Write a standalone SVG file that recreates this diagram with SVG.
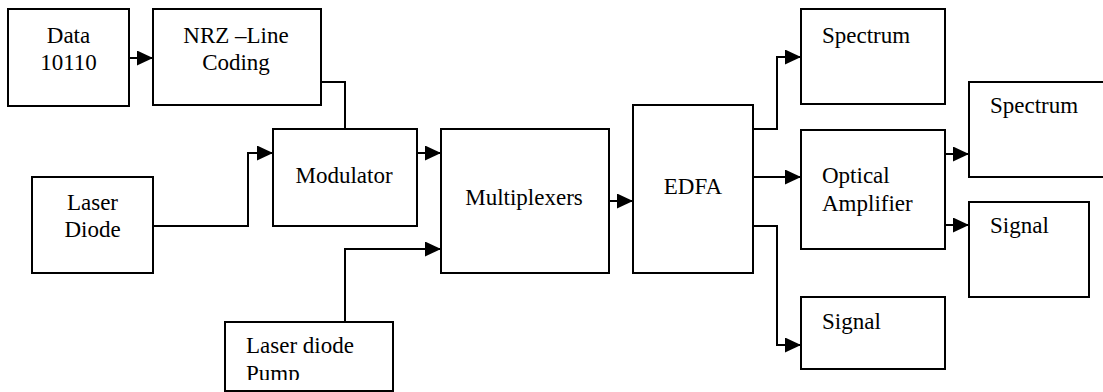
<svg xmlns="http://www.w3.org/2000/svg" width="1103" height="392" viewBox="0 0 1103 392" font-family="Liberation Serif, DejaVu Serif, serif">
<style>
.box{fill:#fff;stroke:#000;stroke-width:2}
.t{font-size:23px;fill:#000}
.c{text-anchor:middle}
.ln{fill:none;stroke:#000;stroke-width:2}
</style>
<defs>
<marker id="ah" markerUnits="userSpaceOnUse" markerWidth="16" markerHeight="15" refX="16" refY="7.5" orient="auto">
<path d="M0,0 L16,7.5 L0,15 Z" fill="#000"/>
</marker>
<clipPath id="pc"><rect x="225" y="322" width="168" height="58"/></clipPath>
</defs>
<g id="connectors">
<path class="ln" d="M129,58 H153" marker-end="url(#ah)"/>
<path class="ln" d="M321,82 H345 V129"/>
<path class="ln" d="M153,226 H248 V153 H273" marker-end="url(#ah)"/>
<path class="ln" d="M417,153 H441" marker-end="url(#ah)"/>
<path class="ln" d="M345,322 V249 H441" marker-end="url(#ah)"/>
<path class="ln" d="M609,201 H633" marker-end="url(#ah)"/>
<path class="ln" d="M753,129 H777 V57 H801" marker-end="url(#ah)"/>
<path class="ln" d="M753,177 H801" marker-end="url(#ah)"/>
<path class="ln" d="M753,226 H777 V345 H801" marker-end="url(#ah)"/>
<path class="ln" d="M945,154 H969" marker-end="url(#ah)"/>
<path class="ln" d="M945,225 H969" marker-end="url(#ah)"/>
</g>
<g id="data">
<rect class="box" x="8" y="9" width="121" height="97"/>
<text class="t c" x="68.5" y="43">Data</text>
<text class="t c" x="68.5" y="70">10110</text>
</g>
<g id="nrz">
<rect class="box" x="153" y="9" width="168" height="96"/>
<text class="t c" x="236" y="43">NRZ –Line</text>
<text class="t c" x="236" y="70">Coding</text>
</g>
<g id="laser-diode">
<rect class="box" x="32" y="177" width="121" height="96"/>
<text class="t c" x="92.5" y="210">Laser</text>
<text class="t c" x="92.5" y="237">Diode</text>
</g>
<g id="modulator">
<rect class="box" x="273" y="129" width="144" height="97"/>
<text class="t c" x="344" y="183">Modulator</text>
</g>
<g id="pump">
<rect class="box" x="225" y="322" width="168" height="69"/>
<g clip-path="url(#pc)">
<text class="t" x="246" y="353">Laser diode</text>
<text class="t" x="246" y="381">Pump</text>
</g>
</g>
<g id="multiplexers">
<rect class="box" x="441" y="129" width="168" height="144"/>
<text class="t c" x="524" y="205">Multiplexers</text>
</g>
<g id="edfa">
<rect class="box" x="633" y="105" width="120" height="168"/>
<text class="t c" x="693" y="194">EDFA</text>
</g>
<g id="spectrum1">
<rect class="box" x="801" y="9" width="144" height="95"/>
<text class="t" x="822" y="43">Spectrum</text>
</g>
<g id="optical-amplifier">
<rect class="box" x="801" y="130" width="144" height="119"/>
<text class="t" x="822" y="183">Optical</text>
<text class="t" x="822" y="211">Amplifier</text>
</g>
<g id="spectrum2">
<rect class="box" x="969" y="82" width="150" height="95"/>
<text class="t" x="990" y="113">Spectrum</text>
</g>
<g id="signal-right">
<rect class="box" x="969" y="202" width="120" height="95"/>
<text class="t" x="990" y="233">Signal</text>
</g>
<g id="signal-bottom">
<rect class="box" x="801" y="297" width="144" height="72"/>
<text class="t" x="822" y="329">Signal</text>
</g>
</svg>
